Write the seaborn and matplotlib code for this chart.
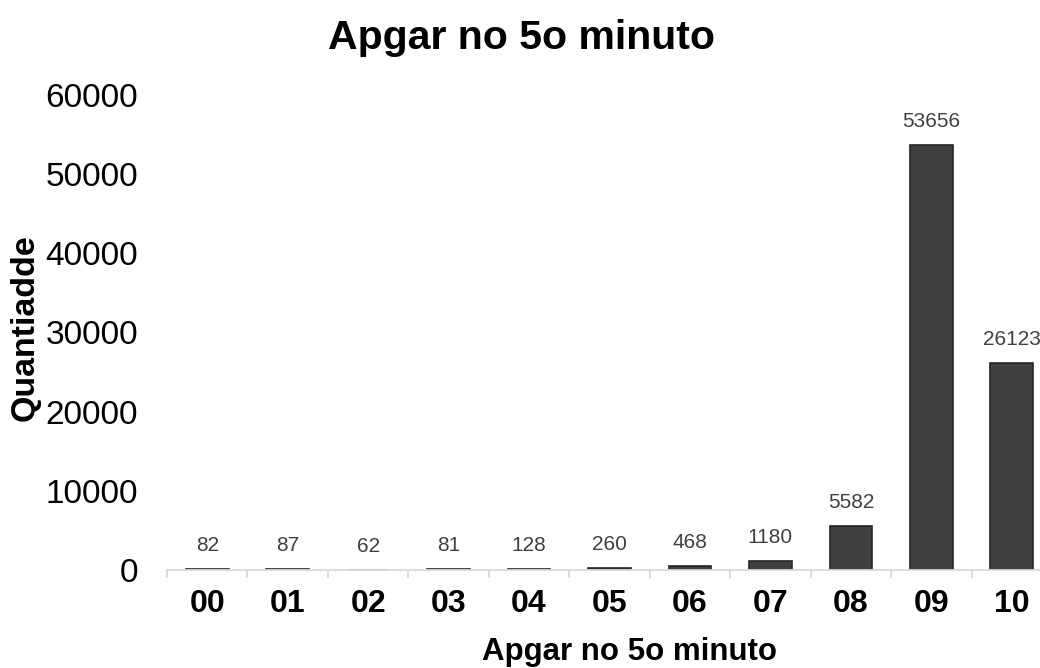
import matplotlib
matplotlib.use("Agg")
import matplotlib.pyplot as plt
import seaborn as sns
import pandas as pd
import numpy as np

categories = ["00", "01", "02", "03", "04", "05", "06", "07", "08", "09", "10"]
values = [82, 87, 62, 81, 128, 260, 468, 1180, 5582, 53656, 26123]
yticks = [0, 10000, 20000, 30000, 40000, 50000, 60000]

sns.set_theme(style="white")
plt.rcParams['font.family'] = ['Liberation Sans', 'DejaVu Sans']
plt.rcParams['text.color'] = 'black'

df = pd.DataFrame({"cat": categories, "val": values})

fig = plt.figure(figsize=(10.4, 6.68), dpi=100)
ax = fig.add_axes([167/1040, 1-570/668, 885/1040, 475/668])
sns.barplot(data=df, x="cat", y="val", ax=ax, color="#404040", saturation=1,
            edgecolor="#262626", linewidth=1.2, width=0.53)

ax.set_ylim(0, 60000)
ax.set_xlim(-0.5, len(categories) - 0.5)
ax.set_yticks(yticks)
ax.set_yticklabels([str(t) for t in yticks])
for s in ["left", "right", "top"]:
    ax.spines[s].set_visible(False)
ax.spines["bottom"].set_color("#d9d9d9")
ax.spines["bottom"].set_linewidth(1.3)
ax.tick_params(axis="y", length=0, pad=21, labelsize=24, labelcolor="black")
ax.tick_params(axis="x", which="major", length=0, pad=13.5, labelsize=23, labelcolor="black")
for lbl in ax.get_xticklabels():
    lbl.set_fontweight("bold")
ax.set_xticks(np.arange(-0.5, len(categories), 1), minor=True)
ax.tick_params(axis="x", which="minor", bottom=True, length=6, width=1.3, color="#d9d9d9")

for i, v in enumerate(values):
    ax.annotate(str(v), xy=(i, v), xytext=(0, 10), textcoords="offset points",
                ha="center", va="bottom", fontsize=15, color="#404040", annotation_clip=False)

ax.set_xlabel("")
ax.set_ylabel("")
fig.text(630/1040, 1-660/668, "Apgar no 5o minuto", ha="center", va="baseline",
         fontsize=22.5, fontweight="bold", color="black")
fig.text(25/1040, 1-328/668, "Quantiadde", rotation=90, ha="center", va="center",
         fontsize=24.5, fontweight="bold", color="black")
fig.text(522/1040, 1-49/668, "Apgar no 5o minuto", ha="center", va="baseline",
         fontsize=29.5, fontweight="bold", color="black")
ax.grid(False)

fig.savefig("out.png", dpi=100)
